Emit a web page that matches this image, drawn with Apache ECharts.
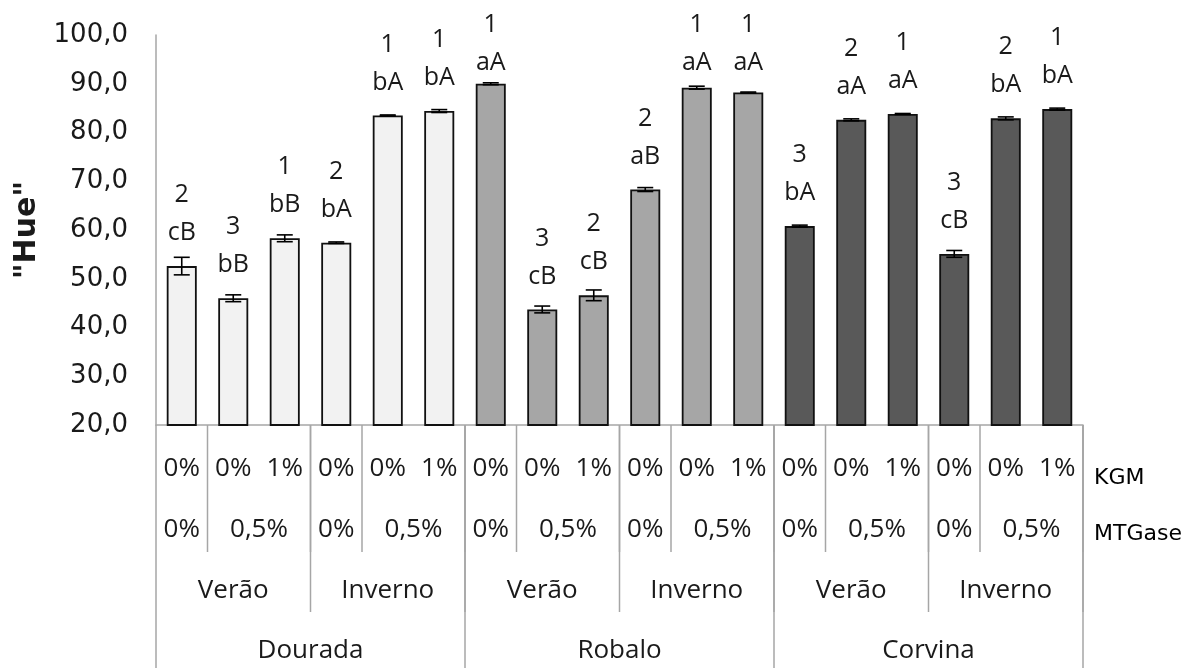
<!DOCTYPE html>
<html>
<head>
<meta charset="utf-8">
<script src="https://cdn.jsdelivr.net/npm/echarts@6/dist/echarts.min.js"></script>
<style>
  html, body { margin: 0; padding: 0; background: #fff; }
  #chart { width: 1189px; height: 668px; }
</style>
</head>
<body>
<div id="chart"></div>
<script>
// Grouping of the 18 samples: species > season > treatment (MTGase / KGM)
const species = ['Dourada', 'Robalo', 'Corvina'];
const seasons = ['Verão', 'Inverno'];
const mtgase = ['0%', '0,5%'];
const mtgaseSpan = [1, 2];           // samples covered by each MTGase level
const kgm = ['0%', '0%', '1%'];      // KGM level of each sample inside a season

// Hue values and their standard errors
const hue    = [52.6, 46.0, 58.3, 57.4, 83.5, 84.4, 90.0, 43.7, 46.6, 68.3, 89.2, 88.2, 60.8, 82.6, 83.8, 55.1, 82.9, 84.8];
const hueErr = [1.8, 0.7, 0.7, 0.15, 0.1, 0.3, 0.2, 0.7, 1.1, 0.4, 0.3, 0.1, 0.2, 0.2, 0.1, 0.7, 0.3, 0.2];

// Significance labels above each bar
const rankLabels   = ['2', '3', '1', '2', '1', '1', '1', '3', '2', '2', '1', '1', '3', '2', '1', '3', '2', '1'];
const letterLabels = ['cB', 'bB', 'bB', 'bA', 'bA', 'bA', 'aA', 'cB', 'cB', 'aB', 'aA', 'aA', 'bA', 'aA', 'aA', 'cB', 'bA', 'bA'];

// Y axis range
const yMin = 20, yMax = 100, yStep = 10;

const speciesColors = ['#f2f2f2', '#a6a6a6', '#595959'];
const tableLine = '#a6a6a6';
const textColor = '#1a1a1a';
const bodyFont = '"Open Sans", "Noto Sans", sans-serif';
const axisFont = '"DejaVu Sans", Verdana, sans-serif';

// Build the category ids and the spans of the header table under the axis
const categories = [];
const spans = [];
let idx = 0;
species.forEach((sp) => {
  const spStart = idx;
  seasons.forEach((se) => {
    const seStart = idx;
    mtgase.forEach((m, k) => {
      spans.push({ start: idx, end: idx + mtgaseSpan[k] - 1, level: 1, label: m });
      idx += mtgaseSpan[k];
    });
    spans.push({ start: seStart, end: idx - 1, level: 2, label: se });
  });
  spans.push({ start: spStart, end: idx - 1, level: 3, label: sp });
});
for (let i = 0; i < idx; i++) {
  categories.push(species[Math.floor(i / 6)] + '-' + seasons[Math.floor(i / 3) % 2] + '-' + i);
  spans.push({ start: i, end: i, level: 0, label: kgm[i % 3] });
}

// Row placement of the header table (pixels below the axis line)
const rowOffset = [44, 105, 166, 226];
const lineLen = [0, 127, 187, 260];

function renderTable(params, api) {
  const s = spans[params.dataIndex];
  const bw = api.size([1, 0])[0];
  const p0 = api.coord([s.start, yMin]);
  const p1 = api.coord([s.end, yMin]);
  const base = p0[1];
  const left = p0[0] - bw / 2;
  const right = p1[0] + bw / 2;
  const children = [{
    type: 'text',
    style: {
      text: s.label,
      x: (left + right) / 2,
      y: base + rowOffset[s.level],
      align: 'center',
      verticalAlign: 'middle',
      fill: textColor,
      fontSize: 26,
      fontFamily: bodyFont
    }
  }];
  if (s.level > 0) {
    children.push({
      type: 'line',
      shape: { x1: right, y1: base, x2: right, y2: base + lineLen[s.level] },
      style: { stroke: tableLine, lineWidth: 1.5 }
    });
  }
  if (s.level === 3 && s.start === 0) {
    children.push({
      type: 'line',
      shape: { x1: left, y1: base, x2: left, y2: base + lineLen[3] },
      style: { stroke: tableLine, lineWidth: 1.5 }
    });
  }
  return { type: 'group', children };
}

function renderErr(params, api) {
  const i = api.value(0), v = api.value(1), e = api.value(2);
  const hi = api.coord([i, v + e]);
  const lo = api.coord([i, v - e]);
  const cap = 8;
  const style = { stroke: '#000', lineWidth: 1.6 };
  return {
    type: 'group',
    children: [
      { type: 'line', shape: { x1: hi[0], y1: hi[1], x2: lo[0], y2: lo[1] }, style },
      { type: 'line', shape: { x1: hi[0] - cap, y1: hi[1], x2: hi[0] + cap, y2: hi[1] }, style },
      { type: 'line', shape: { x1: lo[0] - cap, y1: lo[1], x2: lo[0] + cap, y2: lo[1] }, style }
    ]
  };
}

const labelGap = 14;      // gap between a bar top and its label block
const labelLine = 38;     // line height of the two-line labels
const labelCeil = 44;     // labels never rise above this pixel row

function barData(offsets) {
  return hue.map((v, i) => ({
    value: v,
    itemStyle: { color: speciesColors[Math.floor(i / 6)] },
    label: { offset: [0, offsets ? offsets[i] : 0] }
  }));
}

const chart = echarts.init(document.getElementById('chart'), null, { renderer: 'canvas' });
chart.setOption({
  backgroundColor: '#ffffff',
  animation: false,
  grid: { left: 156, right: 106, top: 35, bottom: 243, containLabel: false },
  xAxis: {
    type: 'category',
    data: categories,
    boundaryGap: true,
    axisLine: { show: true, lineStyle: { color: tableLine, width: 1.5 } },
    axisTick: { show: false },
    axisLabel: { show: false },
    splitLine: { show: false }
  },
  yAxis: {
    type: 'value',
    min: yMin,
    max: yMax,
    interval: yStep,
    name: '"Hue"',
    nameLocation: 'middle',
    nameRotate: 90,
    nameGap: 114,
    nameTextStyle: { fontSize: 30, fontWeight: 'bold', fontFamily: axisFont, color: textColor },
    axisLine: { show: true, lineStyle: { color: tableLine, width: 1.5 } },
    axisTick: { show: false },
    splitLine: { show: false },
    axisLabel: {
      margin: 28,
      fontSize: 26,
      fontFamily: axisFont,
      color: textColor,
      formatter: v => v.toFixed(1).replace('.', ',')
    }
  },
  graphic: [
    { type: 'text', left: 1094, top: 467, style: { text: 'KGM', fontSize: 22, fontFamily: axisFont, fill: '#000' } },
    { type: 'text', left: 1094, top: 523, style: { text: 'MTGase', fontSize: 22, fontFamily: axisFont, fill: '#000' } }
  ],
  series: [
    {
      type: 'bar',
      barWidth: 30,
      data: barData(null),
      itemStyle: { borderColor: '#111111', borderWidth: 1.8 },
      label: {
        show: true,
        position: 'top',
        distance: labelGap,
        fontSize: 25,
        lineHeight: labelLine,
        fontFamily: bodyFont,
        color: textColor,
        formatter: p => rankLabels[p.dataIndex] + '\n' + letterLabels[p.dataIndex]
      },
      z: 2
    },
    {
      type: 'custom',
      renderItem: renderErr,
      data: hue.map((v, i) => [i, v, hueErr[i]]),
      encode: { x: 0, y: 1 },
      z: 3
    },
    {
      type: 'custom',
      renderItem: renderTable,
      data: spans.map(s => [s.start, yMin]),
      encode: { x: 0, y: 1 },
      clip: false,
      silent: true,
      z: 1
    }
  ]
});

// Push down the labels of the tallest bars so they stay inside the canvas
const offsets = hue.map((v, i) => {
  const top = chart.convertToPixel({ gridIndex: 0 }, [i, v])[1];
  const labelTop = top - labelGap - 2 * labelLine;
  return labelTop < labelCeil - labelLine ? (labelCeil - labelLine) - labelTop : 0;
});
chart.setOption({ series: [{ data: barData(offsets) }] });
</script>
</body>
</html>
